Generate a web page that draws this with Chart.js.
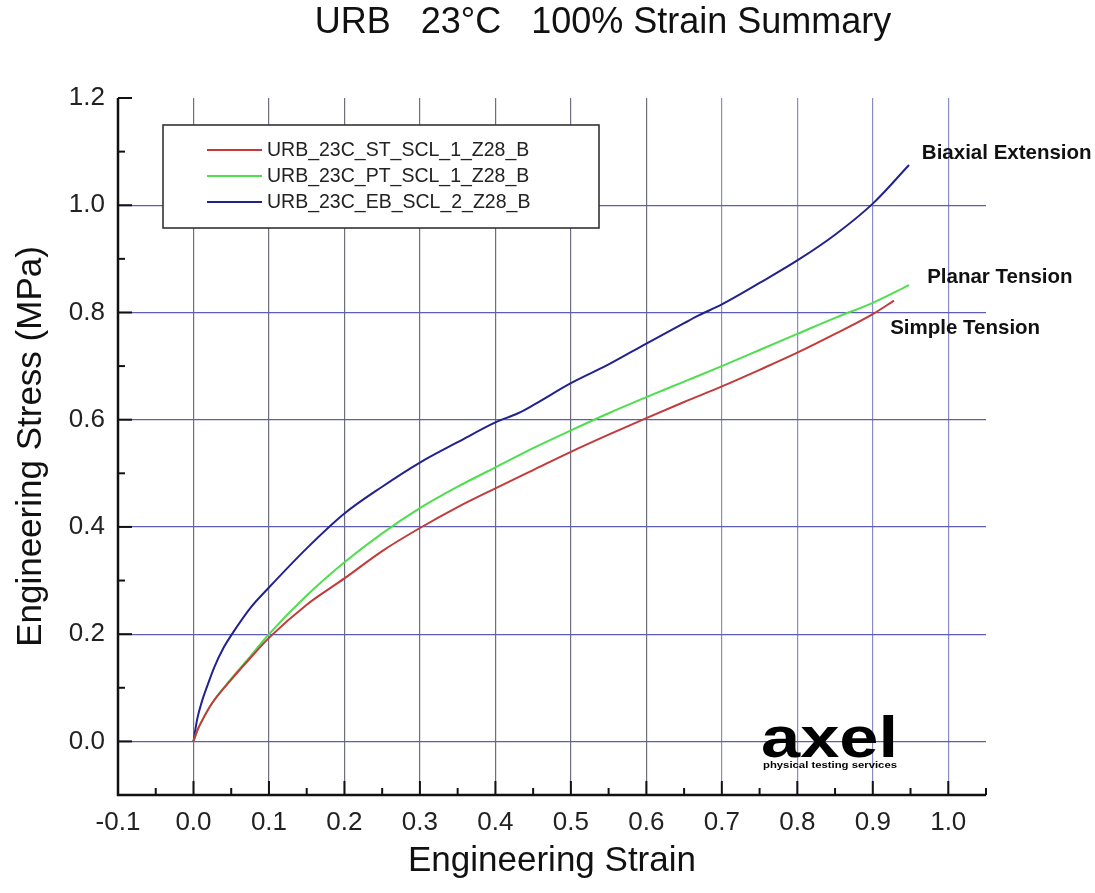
<!DOCTYPE html>
<html>
<head>
<meta charset="utf-8">
<script src="https://cdn.jsdelivr.net/npm/chart.js@4.4.1/dist/chart.umd.min.js"></script>
<style>
  html, body { margin: 0; padding: 0; background: #fff; }
  canvas { display: block; }
</style>
</head>
<body>
<canvas id="strainChart" width="1095" height="893"></canvas>
<script>
// values (strain, stress in MPa)
const strainST = [0, 0.005, 0.01, 0.025, 0.05, 0.075, 0.1, 0.15, 0.2, 0.25, 0.3, 0.35, 0.4, 0.45, 0.5, 0.55, 0.6, 0.65, 0.7, 0.75, 0.8, 0.85, 0.9, 0.928];
const stressST = [0, 0.02, 0.035, 0.072, 0.115, 0.155, 0.193, 0.255, 0.304, 0.355, 0.398, 0.437, 0.472, 0.506, 0.54, 0.572, 0.603, 0.633, 0.662, 0.693, 0.725, 0.76, 0.797, 0.822];

const strainPT = [0, 0.005, 0.01, 0.025, 0.05, 0.075, 0.1, 0.15, 0.2, 0.25, 0.3, 0.35, 0.4, 0.45, 0.5, 0.55, 0.6, 0.65, 0.7, 0.75, 0.8, 0.85, 0.9, 0.948];
const stressPT = [0, 0.02, 0.035, 0.072, 0.117, 0.158, 0.2, 0.272, 0.334, 0.388, 0.435, 0.475, 0.511, 0.547, 0.58, 0.612, 0.642, 0.671, 0.7, 0.73, 0.76, 0.79, 0.818, 0.851];

const strainEB = [0, 0.005, 0.0115, 0.02, 0.0275, 0.04, 0.051, 0.076, 0.1, 0.15, 0.2, 0.25, 0.3, 0.35, 0.4, 0.43, 0.45, 0.5, 0.55, 0.6, 0.65, 0.67, 0.7, 0.75, 0.8, 0.85, 0.9, 0.948];
const stressEB = [0, 0.042, 0.076, 0.11, 0.138, 0.175, 0.2, 0.25, 0.287, 0.36, 0.425, 0.475, 0.52, 0.558, 0.595, 0.612, 0.627, 0.668, 0.703, 0.742, 0.78, 0.795, 0.815, 0.855, 0.897, 0.945, 1.003, 1.075];

const seriesLabels = ["URB_23C_ST_SCL_1_Z28_B", "URB_23C_PT_SCL_1_Z28_B", "URB_23C_EB_SCL_2_Z28_B"];
const seriesColors = ["#c33a3a", "#4ede4e", "#22228e"];

// curve names written next to the ends of the curves (data units)
const noteTexts = ["Biaxial Extension", "Planar Tension", "Simple Tension"];
const noteX = [0.965, 0.972, 0.923];
const noteY = [1.097, 0.866, 0.771];

const chartTitle = "URB   23°C   100% Strain Summary";
const FONT = "'Liberation Sans', Arial, sans-serif";

function toXY(xs, ys) {
    return xs.map((x, i) => ({ x: x, y: ys[i] }));
}

// desenha titulo, eixos, legenda, notas e logo
const decorPlugin = {
    id: "decor",
    afterDraw(chart) {
        const ctx = chart.ctx;
        const xs = chart.scales.x;
        const ys = chart.scales.y;
        const area = chart.chartArea;

        ctx.save();
        // title
        ctx.fillStyle = "#111";
        ctx.font = "36px " + FONT;
        ctx.textAlign = "center";
        ctx.textBaseline = "middle";
        ctx.fillText(chartTitle, 603, 23);

        // axis lines
        ctx.strokeStyle = "#111";
        ctx.lineWidth = 2.5;
        ctx.beginPath();
        ctx.moveTo(area.left, area.top);
        ctx.lineTo(area.left, area.bottom);
        ctx.lineTo(area.right, area.bottom);
        ctx.stroke();

        // inward ticks
        ctx.lineWidth = 2;
        for (let i = 0; i <= 12; i++) {
            const py = ys.getPixelForValue(i / 10);
            const len = i % 2 === 0 ? 14 : 7;
            ctx.beginPath();
            ctx.moveTo(area.left, py);
            ctx.lineTo(area.left + len, py);
            ctx.stroke();
        }
        for (let i = -1; i <= 21; i++) {
            const px = xs.getPixelForValue(i / 20);
            const len = i % 2 === 0 ? 14 : 7;
            ctx.beginPath();
            ctx.moveTo(px, area.bottom);
            ctx.lineTo(px, area.bottom - len);
            ctx.stroke();
        }

        // legend box
        const lx = 163, ly = 125, lw = 436, lh = 103;
        ctx.fillStyle = "#fff";
        ctx.fillRect(lx, ly, lw, lh);
        ctx.strokeStyle = "#333";
        ctx.lineWidth = 1.6;
        ctx.strokeRect(lx, ly, lw, lh);
        ctx.font = "19.5px " + FONT;
        ctx.textAlign = "left";
        ctx.textBaseline = "middle";
        chart.data.datasets.forEach((ds, i) => {
            const ry = 150 + i * 26;
            ctx.strokeStyle = ds.borderColor;
            ctx.lineWidth = 2;
            ctx.beginPath();
            ctx.moveTo(207, ry);
            ctx.lineTo(262, ry);
            ctx.stroke();
            ctx.fillStyle = "#222";
            ctx.fillText(ds.label, 267, ry + 1);
        });

        // curve notes
        ctx.font = "bold 20.5px " + FONT;
        ctx.fillStyle = "#111";
        noteTexts.forEach((t, i) => {
            ctx.fillText(t, xs.getPixelForValue(noteX[i]), ys.getPixelForValue(noteY[i]));
        });

        // axel logo
        ctx.textAlign = "left";
        ctx.textBaseline = "alphabetic";
        ctx.font = "bold 57px " + FONT;
        let w = ctx.measureText("axel").width;
        ctx.save();
        ctx.translate(761, 757);
        ctx.scale(137 / w, 1);
        ctx.fillStyle = "#000";
        ctx.fillText("axel", 0, 0);
        ctx.restore();
        ctx.font = "bold 9px " + FONT;
        w = ctx.measureText("physical testing services").width;
        ctx.save();
        ctx.translate(763, 768);
        ctx.scale(134 / w, 1);
        ctx.fillStyle = "#000";
        ctx.fillText("physical testing services", 0, 0);
        ctx.restore();

        ctx.restore();
    }
};

const ctx = document.getElementById("strainChart").getContext("2d");
const strainChart = new Chart(ctx, {
    type: "line",
    data: {
        datasets: [
            { label: seriesLabels[0], data: toXY(strainST, stressST), borderColor: seriesColors[0] },
            { label: seriesLabels[1], data: toXY(strainPT, stressPT), borderColor: seriesColors[1] },
            { label: seriesLabels[2], data: toXY(strainEB, stressEB), borderColor: seriesColors[2] },
        ].map((d) => Object.assign(d, { borderWidth: 2, pointRadius: 0, cubicInterpolationMode: "monotone", fill: false })),
    },
    options: {
        responsive: false,
        animation: false,
        devicePixelRatio: 1,
        layout: { padding: { top: 98, right: 109, left: 0, bottom: 0 } },
        plugins: {
            legend: { display: false },
            title: { display: false },
            tooltip: { enabled: false },
        },
        scales: {
            x: {
                type: "linear",
                min: -0.1,
                max: 1.05,
                afterFit: (s) => { s.height = 98; },
                border: { display: false },
                grid: {
                    drawTicks: false,
                    lineWidth: 1.2,
                    color: (c) => {
                        const v = c.tick ? c.tick.value : 0;
                        if (v < -0.05) return "rgba(0,0,0,0)";
                        return v > 0.65 ? "#8a8ac6" : "#6e6e80";
                    },
                },
                ticks: {
                    stepSize: 0.1,
                    includeBounds: false,
                    maxTicksLimit: 20,
                    autoSkip: false,
                    maxRotation: 0,
                    padding: 12,
                    color: "#222",
                    font: { family: FONT, size: 26 },
                    callback: (v) => Number(v).toFixed(1),
                },
                title: {
                    display: true,
                    text: "Engineering Strain",
                    color: "#111",
                    font: { family: FONT, size: 35 },
                    padding: { top: 0, bottom: 11 },
                },
            },
            y: {
                min: -0.1,
                max: 1.2,
                afterFit: (s) => { s.width = 118; },
                border: { display: false },
                grid: {
                    drawTicks: false,
                    lineWidth: 1.2,
                    color: (c) => {
                        const v = c.tick ? c.tick.value : 0;
                        return v > 1.1 ? "rgba(0,0,0,0)" : "#5c5cb4";
                    },
                },
                ticks: {
                    stepSize: 0.2,
                    includeBounds: false,
                    maxTicksLimit: 20,
                    padding: 13,
                    color: "#222",
                    font: { family: FONT, size: 26 },
                    callback: (v) => Number(v).toFixed(1),
                },
                title: {
                    display: true,
                    text: "Engineering Stress (MPa)",
                    color: "#111",
                    font: { family: FONT, size: 35 },
                    padding: { top: 10, bottom: 0 },
                },
            },
        },
    },
    plugins: [decorPlugin],
});
</script>
</body>
</html>
